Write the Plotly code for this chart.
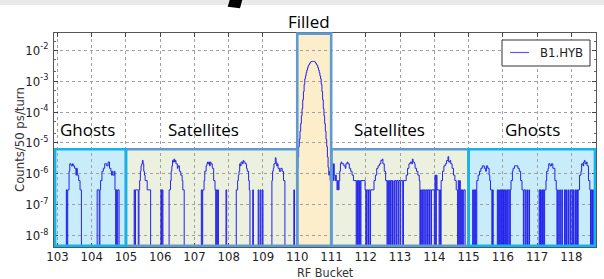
import plotly.graph_objects as go

# ---------------- data ----------------
# step histogram: bin start (RF bucket) and counts per 50 ps bin per turn; 0 = empty bin
ghosts_left_x = [103.00, 103.26, 103.28, 103.30, 103.34, 103.36, 103.40, 103.44, 103.46, 103.50,
                 103.54, 103.56, 103.58, 103.62, 103.66, 103.70,
                 104.16, 104.22, 104.24, 104.26, 104.30, 104.34, 104.38, 104.44, 104.48, 104.52,
                 104.56, 104.58, 104.60, 104.62, 104.66, 104.68, 104.70, 104.72, 104.74, 104.76, 104.80]
ghosts_left_y = [0, 3e-7, 0, 3e-7, 1.2e-6, 2.1e-6, 1.8e-6, 2.1e-6, 1.8e-6, 1.5e-6,
                 9e-7, 1.5e-6, 9e-7, 6e-7, 3e-7, 0,
                 3e-7, 0, 3e-7, 6e-7, 1.2e-6, 1.5e-6, 2.1e-6, 1.8e-6, 2.4e-6, 1.5e-6,
                 1.2e-6, 9e-7, 1.2e-6, 9e-7, 1.2e-6, 3e-7, 0, 3e-7, 0, 3e-7, 0]

sat_left_x = [105.24, 105.26, 105.28, 105.36, 105.38, 105.40, 105.42, 105.44, 105.46, 105.48,
              105.50, 105.52, 105.54, 105.56, 105.62, 105.72,
              106.02, 106.04, 106.06, 106.08,
              106.26, 106.30, 106.32, 106.34, 106.36, 106.38, 106.40, 106.42, 106.44, 106.46,
              106.50, 106.52, 106.56, 106.60, 106.64, 106.66, 106.70,
              107.20, 107.22, 107.24, 107.28, 107.30, 107.34, 107.36, 107.38, 107.40, 107.42,
              107.44, 107.46, 107.48, 107.52, 107.56, 107.60, 107.62, 107.64, 107.66, 107.68,
              107.70, 107.92, 107.94,
              108.22, 108.26, 108.28, 108.30, 108.32, 108.34, 108.36, 108.40, 108.42, 108.44,
              108.48, 108.52, 108.54, 108.58, 108.60, 108.62, 108.70, 108.72, 108.86, 108.88,
              108.92, 108.94, 108.98, 109.00,
              109.26, 109.28, 109.30, 109.32, 109.36, 109.38, 109.40, 109.42, 109.44, 109.48,
              109.52, 109.56, 109.60, 109.64, 109.90, 109.92]
sat_left_y = [3e-7, 0, 3e-7, 0, 3e-7, 6e-7, 1.2e-6, 1.8e-6, 2.1e-6, 2.7e-6,
              2.1e-6, 1.2e-6, 9e-7, 6e-7, 3e-7, 0,
              3e-7, 0, 3e-7, 0,
              3e-7, 6e-7, 1.2e-6, 1.8e-6, 2.7e-6, 2.4e-6, 3.0e-6, 2.4e-6, 2.7e-6, 2.1e-6,
              1.5e-6, 1.8e-6, 1.2e-6, 9e-7, 6e-7, 3e-7, 0,
              3e-7, 0, 3e-7, 6e-7, 1.2e-6, 1.8e-6, 2.1e-6, 2.4e-6, 2.1e-6, 2.4e-6,
              1.8e-6, 2.4e-6, 2.1e-6, 1.5e-6, 6e-7, 3e-7, 0, 3e-7, 0, 3e-7,
              0, 3e-7, 0,
              3e-7, 6e-7, 9e-7, 1.2e-6, 2.1e-6, 1.8e-6, 2.4e-6, 2.1e-6, 2.7e-6, 2.4e-6,
              2.1e-6, 1.5e-6, 1.2e-6, 6e-7, 3e-7, 0, 3e-7, 0, 3e-7, 0,
              3e-7, 0, 3e-7, 0,
              6e-7, 1.2e-6, 1.5e-6, 2.1e-6, 3.3e-6, 2.4e-6, 1.8e-6, 2.1e-6, 1.5e-6, 1.2e-6,
              1.5e-6, 1.2e-6, 6e-7, 0, 3e-7, 0]

filled_x = [110.00, 110.02, 110.04, 110.06, 110.08, 110.10, 110.12, 110.14, 110.16, 110.18,
            110.20, 110.22, 110.24, 110.26, 110.28, 110.30, 110.32, 110.34, 110.36, 110.38,
            110.40, 110.42, 110.44, 110.46, 110.48, 110.50, 110.52, 110.54, 110.56, 110.58,
            110.60, 110.62, 110.64, 110.66, 110.68, 110.70, 110.72, 110.74, 110.76, 110.78,
            110.80, 110.82, 110.84, 110.86, 110.88, 110.90, 110.92, 110.94, 110.96, 110.98]
filled_y = [1.6e-6, 3.5e-6, 7.6e-6, 1.3e-5, 2.4e-5, 4.2e-5, 7.6e-5, 1.3e-4, 2.5e-4, 4.6e-4,
            7.9e-4, 1.2e-3, 1.5e-3, 1.9e-3, 2.3e-3, 2.75e-3, 3.2e-3, 3.5e-3, 3.8e-3, 4.1e-3,
            4.3e-3, 4.4e-3, 4.4e-3, 4.4e-3, 4.4e-3, 4.3e-3, 4.1e-3, 3.8e-3, 3.5e-3, 3.2e-3,
            2.75e-3, 2.3e-3, 1.9e-3, 1.5e-3, 1.2e-3, 7.9e-4, 4.6e-4, 2.5e-4, 1.3e-4, 7.6e-5,
            4.2e-5, 2.4e-5, 1.3e-5, 7.6e-6, 3.5e-6, 1.6e-6, 9e-7, 1.2e-6, 6e-7, 1.2e-6]

sat_right_x = [111.00, 111.02, 111.04, 111.06, 111.08, 111.10, 111.12, 111.14, 111.16, 111.18,
               111.20, 111.22, 111.24, 111.26, 111.28, 111.30, 111.36, 111.40, 111.42, 111.46,
               111.48, 111.52, 111.56, 111.60, 111.64, 111.72, 111.74, 111.76, 111.78, 111.80,
               111.82, 111.84, 111.86, 111.98, 112.00, 112.02, 112.06, 112.08, 112.12, 112.14,
               112.24, 112.28, 112.32, 112.36, 112.40, 112.44, 112.48, 112.50, 112.54, 112.58,
               112.62, 112.64, 112.66, 112.68, 112.70, 112.72, 112.76, 112.78, 112.80, 112.84,
               112.88, 112.90, 112.94, 112.96, 113.00, 113.02, 113.08, 113.10, 113.18, 113.22,
               113.26, 113.30, 113.34, 113.36, 113.38, 113.42, 113.44, 113.48, 113.52, 113.56,
               113.58, 113.60, 113.62, 113.64, 113.66, 113.68, 113.72, 113.74, 113.78, 113.80,
               113.84, 113.86, 113.90, 113.92, 114.00, 114.02, 114.04, 114.06, 114.08, 114.14,
               114.16, 114.18, 114.20, 114.24, 114.28, 114.32, 114.36, 114.40, 114.42, 114.46,
               114.48, 114.52, 114.56, 114.60, 114.64, 114.68, 114.70, 114.72, 114.74, 114.76,
               114.78, 114.80, 114.82, 114.84, 114.86, 114.90]
sat_right_y = [1.2e-6, 2.1e-6, 6e-7, 2.1e-6, 9e-7, 6e-7, 9e-7, 6e-7, 3e-7, 6e-7,
               3e-7, 6e-7, 1.2e-6, 2.1e-6, 2.4e-6, 2.1e-6, 1.8e-6, 1.5e-6, 2.1e-6, 2.4e-6,
               2.1e-6, 1.5e-6, 1.2e-6, 9e-7, 6e-7, 0, 6e-7, 0, 6e-7, 0,
               6e-7, 0, 6e-7, 3e-7, 0, 3e-7, 0, 3e-7, 0, 3e-7,
               6e-7, 9e-7, 1.5e-6, 1.8e-6, 2.1e-6, 2.7e-6, 3.0e-6, 2.1e-6, 1.2e-6, 6e-7,
               0, 6e-7, 0, 6e-7, 0, 6e-7, 0, 6e-7, 0, 6e-7,
               0, 6e-7, 0, 6e-7, 0, 6e-7, 0, 6e-7, 9e-7, 1.5e-6,
               2.1e-6, 2.4e-6, 2.1e-6, 3.0e-6, 2.4e-6, 2.1e-6, 1.5e-6, 1.2e-6, 9e-7, 6e-7,
               0, 3e-7, 0, 3e-7, 0, 3e-7, 0, 3e-7, 0, 3e-7,
               0, 3e-7, 0, 3e-7, 0, 9e-7, 0, 9e-7, 3e-7, 0,
               3e-7, 0, 6e-7, 1.2e-6, 1.8e-6, 2.1e-6, 2.7e-6, 3.6e-6, 2.4e-6, 2.7e-6,
               2.1e-6, 1.5e-6, 9e-7, 6e-7, 3e-7, 0, 6e-7, 0, 6e-7, 0,
               3e-7, 0, 3e-7, 0, 3e-7, 0]

ghosts_right_x = [115.12, 115.14, 115.16, 115.18, 115.20, 115.22, 115.24, 115.28, 115.32, 115.36,
                  115.40, 115.46, 115.50, 115.52, 115.56, 115.60, 115.62, 115.64, 115.68, 115.70,
                  115.72, 115.84, 115.86, 115.88, 115.90, 115.92, 115.94, 115.96, 115.98, 116.00,
                  116.02, 116.04, 116.06, 116.08, 116.10, 116.12, 116.14, 116.16, 116.20, 116.22,
                  116.24, 116.28, 116.30, 116.34, 116.44, 116.48, 116.52, 116.56, 116.60, 116.62,
                  116.66, 116.70, 116.72, 116.76, 116.78,
                  117.06, 117.08, 117.10, 117.12, 117.14, 117.16, 117.18, 117.20, 117.22, 117.26,
                  117.28, 117.32, 117.34, 117.38, 117.42, 117.46, 117.52, 117.56, 117.58, 117.60,
                  117.62, 117.66, 117.68, 117.72, 117.74, 117.80, 117.82, 117.84, 117.86, 117.90,
                  117.92, 117.96, 117.98, 118.02, 118.04, 118.06, 118.08, 118.12, 118.14, 118.16,
                  118.18, 118.20, 118.24, 118.28, 118.30, 118.34, 118.36, 118.38, 118.40, 118.44,
                  118.46, 118.50, 118.54, 118.56, 118.58, 118.60, 118.62, 118.64, 118.66, 118.68,
                  118.76]
ghosts_right_y = [3e-7, 0, 3e-7, 0, 3e-7, 0, 6e-7, 9e-7, 1.2e-6, 1.5e-6,
                  1.8e-6, 1.5e-6, 1.2e-6, 1.8e-6, 1.5e-6, 9e-7, 6e-7, 3e-7, 0, 3e-7,
                  0, 3e-7, 0, 3e-7, 0, 3e-7, 0, 3e-7, 0, 3e-7,
                  0, 3e-7, 0, 3e-7, 0, 3e-7, 0, 3e-7, 0, 3e-7,
                  6e-7, 1.2e-6, 1.5e-6, 1.8e-6, 1.5e-6, 1.2e-6, 6e-7, 3e-7, 0, 3e-7,
                  0, 3e-7, 0, 3e-7, 0,
                  3e-7, 0, 3e-7, 0, 3e-7, 0, 3e-7, 0, 3e-7, 6e-7,
                  1.2e-6, 1.5e-6, 2.1e-6, 1.8e-6, 2.1e-6, 1.5e-6, 6e-7, 3e-7, 0, 3e-7,
                  0, 3e-7, 0, 3e-7, 0, 3e-7, 0, 3e-7, 0, 3e-7,
                  0, 3e-7, 0, 3e-7, 0, 3e-7, 0, 3e-7, 0, 3e-7,
                  0, 3e-7, 9e-7, 1.2e-6, 2.1e-6, 1.8e-6, 2.4e-6, 2.7e-6, 2.1e-6, 2.4e-6,
                  1.8e-6, 6e-7, 3e-7, 0, 3e-7, 0, 3e-7, 0, 3e-7, 0,
                  0]

x_ticks = list(range(103, 119))
y_tick_vals = [1e-8, 1e-7, 1e-6, 1e-5, 1e-4, 1e-3, 1e-2]
y_tick_text = ["10<sup>-8</sup>", "10<sup>-7</sup>", "10<sup>-6</sup>", "10<sup>-5</sup>",
               "10<sup>-4</sup>", "10<sup>-3</sup>", "10<sup>-2</sup>"]

region_labels = ["Ghosts", "Satellites", "Filled", "Satellites", "Ghosts"]
series_name = "B1.HYB"

# ---------------- figure ----------------
W, H = 604, 279
ML, MR, MT, MB = 54, 8, 33, 32
PW, PH = W - ML - MR, H - MT - MB
X_RANGE = [102.9, 118.72]
Y_RANGE = [-8.376, -1.436]
EMPTY = 1e-10  # empty bins drawn below the axis floor (log axis)


def pxx(p):
    return (p - ML) / PW


def pxy(p):
    return (H - MB - p) / PH


xs = ghosts_left_x + sat_left_x + filled_x + sat_right_x + ghosts_right_x
ys = ghosts_left_y + sat_left_y + filled_y + sat_right_y + ghosts_right_y
ys_plot = [v if v > 0 else EMPTY for v in ys]

narrow = "Liberation Sans Narrow, DejaVu Sans Condensed, Roboto, sans-serif"
tick_font = dict(family=narrow, size=13, color="#222222")
label_font = dict(family="Open Sans, Lato, sans-serif", size=17, color="#000000")
line_color = "rgb(35,35,235)"

fig = go.Figure()
fig.add_trace(go.Scatter(
    x=xs, y=ys_plot, mode="lines", line=dict(shape="hv", color=line_color, width=1),
    name=series_name, showlegend=False, hoverinfo="skip"))

shapes = []
ghost_fill, ghost_line = "#c8ecfa", "#12b4ec"
sat_fill, sat_line = "#ebf1de", "#5f9bd3"
fill_fill, fill_line = "#fdeecb", "#5f9bd3"
top_low = pxy(149.2)
bot = pxy(245.8)
boxes = [
    (105, 110, top_low, sat_fill, sat_line),
    (111, 115, top_low, sat_fill, sat_line),
    (102.93, 105, top_low, ghost_fill, ghost_line),
    (115, 118.69, top_low, ghost_fill, ghost_line),
    (110, 110.99, 0.997, fill_fill, fill_line),
]
for x0, x1, y1, fc, lc in boxes:
    shapes.append(dict(type="rect", xref="x", yref="paper", x0=x0, x1=x1, y0=bot, y1=y1,
                       fillcolor=fc, line=dict(width=0), layer="below"))
for x0, x1, y1, fc, lc in boxes:
    shapes.append(dict(type="rect", xref="x", yref="paper", x0=x0, x1=x1, y0=bot, y1=y1,
                       fillcolor="rgba(0,0,0,0)", line=dict(width=2.6, color=lc), layer="above"))

# legend frame and sample line (matplotlib-style legend)
shapes.append(dict(type="rect", xref="paper", yref="paper", x0=pxx(502), x1=pxx(590),
                   y0=pxy(66), y1=pxy(40), fillcolor="white",
                   line=dict(width=1, color="#333333"), layer="above"))
shapes.append(dict(type="line", xref="paper", yref="paper", x0=pxx(510), x1=pxx(529),
                   y0=pxy(52.5), y1=pxy(52.5), line=dict(width=1.2, color="rgb(90,90,245)"),
                   layer="above"))

# slide decorations: grey band at top and arrow tip
shapes.append(dict(type="rect", xref="paper", yref="paper", x0=pxx(-5), x1=pxx(W + 5),
                   y0=pxy(5), y1=pxy(-5), fillcolor="#e9e9e9", line=dict(width=0), layer="above"))
arrow = [(230, -1), (242.5, -1), (240, 8.3), (227.7, 6.7)]
path = "M " + " L ".join(f"{pxx(a):.4f},{pxy(b):.4f}" for a, b in arrow) + " Z"
shapes.append(dict(type="path", xref="paper", yref="paper", path=path,
                   fillcolor="#000000", line=dict(width=0), layer="above"))

annotations = []
label_pos = [(87.5, 129), (203, 129), (308.5, 21), (389, 129), (532, 129)]
for text, (ax, ay) in zip(region_labels, label_pos):
    annotations.append(dict(text=text, xref="paper", yref="paper", x=pxx(ax), y=pxy(ay),
                            xanchor="center", yanchor="middle", showarrow=False, font=label_font))
annotations.append(dict(text=series_name, xref="paper", yref="paper", x=pxx(538), y=pxy(52.5),
                        xanchor="left", yanchor="middle", showarrow=False,
                        font=dict(family=narrow, size=13, color="#222222")))
# axis titles placed as in the reference
annotations.append(dict(text="RF Bucket", xref="paper", yref="paper", x=0.5, y=pxy(272.5),
                        xanchor="center", yanchor="middle", showarrow=False,
                        font=dict(family=narrow, size=12.5, color="#333333")))
annotations.append(dict(text="Counts/50 ps/turn", xref="paper", yref="paper", x=pxx(19), y=0.5,
                        xanchor="center", yanchor="middle", showarrow=False, textangle=-90,
                        font=dict(family=narrow, size=13, color="#333333")))

fig.update_layout(
    width=W, height=H, margin=dict(l=ML, r=MR, t=MT, b=MB, pad=0, autoexpand=False),
    paper_bgcolor="white", plot_bgcolor="white",
    shapes=shapes, annotations=annotations,
    showlegend=False,
    xaxis=dict(range=X_RANGE, tickvals=x_ticks, ticktext=[str(t) for t in x_ticks],
               ticks="inside", ticklen=4, tickcolor="#444444", mirror="allticks",
               showline=True, linecolor="#555555", linewidth=1, automargin=False,
               showgrid=True, gridcolor="#a0a0a0", griddash="dot", gridwidth=1,
               zeroline=False, tickfont=tick_font, ticklabelstandoff=-3),
    yaxis=dict(type="log", range=Y_RANGE, tickvals=y_tick_vals, ticktext=y_tick_text,
               ticks="inside", ticklen=4, tickcolor="#444444", mirror="allticks",
               showline=True, linecolor="#555555", linewidth=1, automargin=False,
               showgrid=True, gridcolor="#a0a0a0", griddash="dot", gridwidth=1,
               zeroline=False, tickfont=tick_font, ticklabelstandoff=2,
               minor=dict(ticks="inside", ticklen=2, tickcolor="#666666", showgrid=False)),
)

fig.write_html("out.html", config={"displayModeBar": False, "staticPlot": True},
               post_script="document.body.style.margin='0';document.body.style.overflow='hidden';")
